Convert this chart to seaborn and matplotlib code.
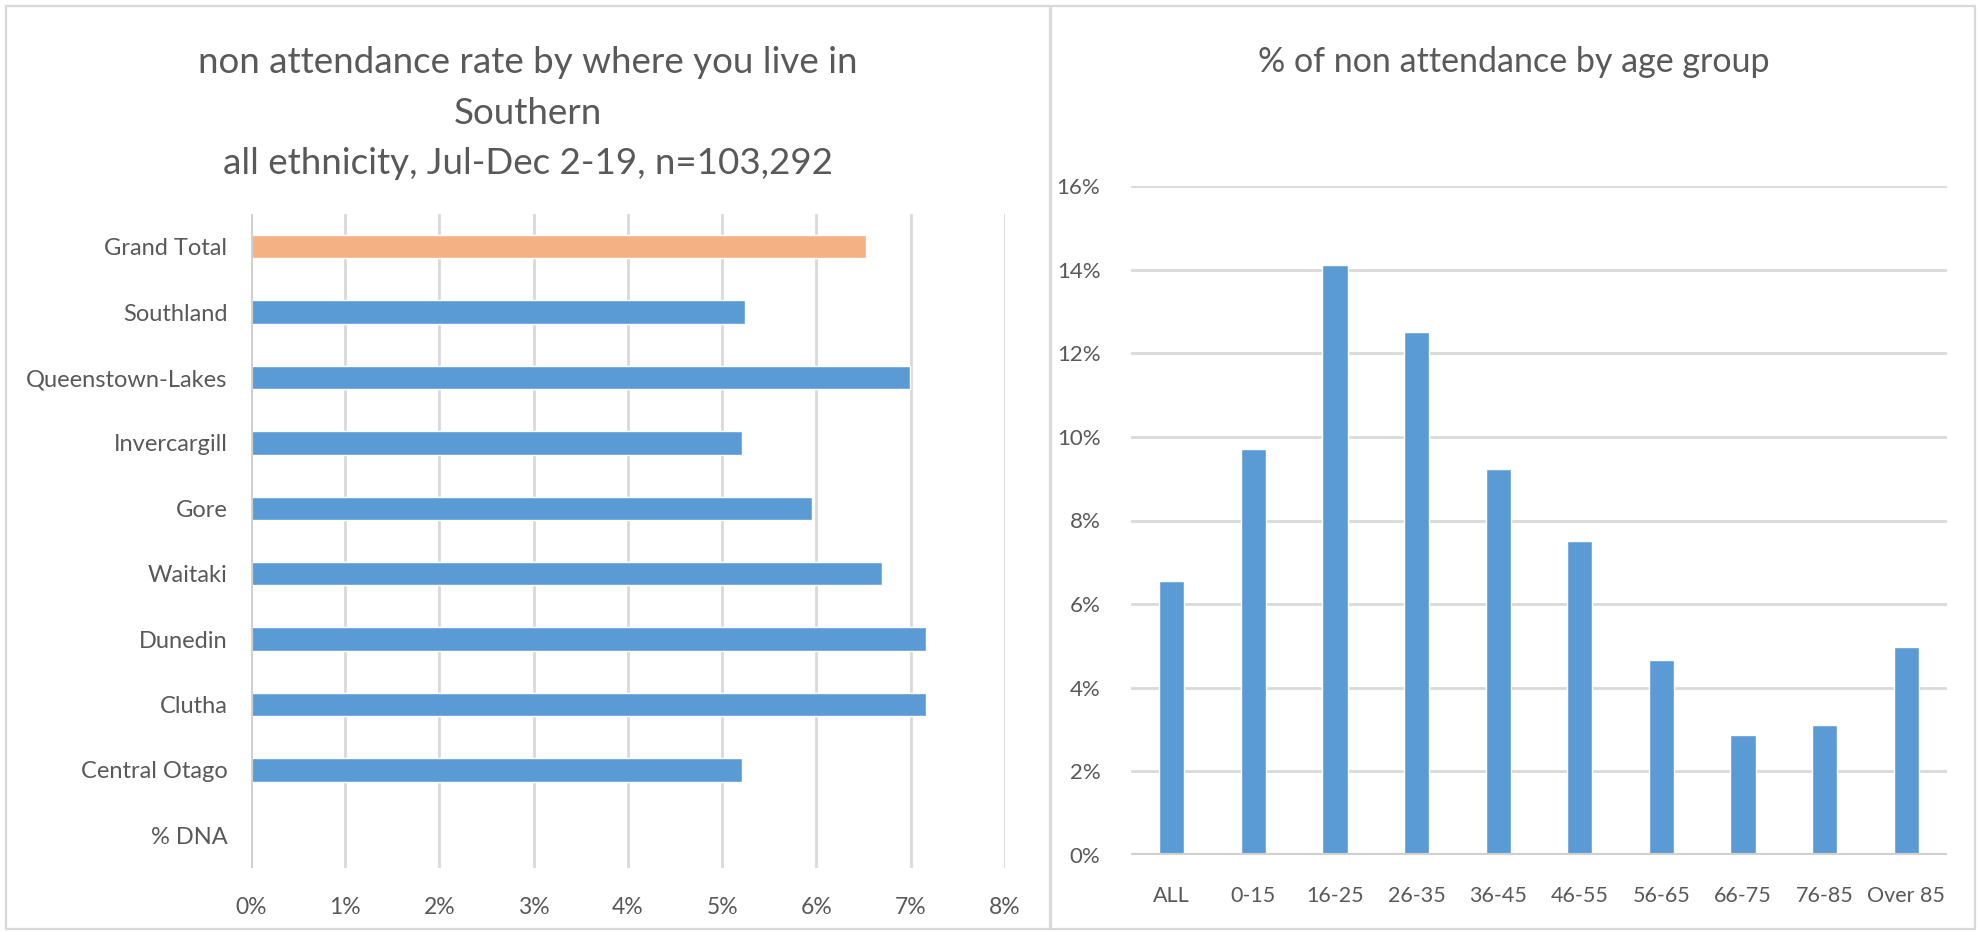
import matplotlib
matplotlib.use("Agg")
import matplotlib.pyplot as plt
from matplotlib.patches import Rectangle
from matplotlib.ticker import PercentFormatter
import numpy as np
import pandas as pd
import seaborn as sns

# Non-attendance rate by area of residence
areas = ["Grand Total", "Southland", "Queenstown-Lakes", "Invercargill", "Gore",
         "Waitaki", "Dunedin", "Clutha", "Central Otago", "% DNA"]
area_rates = [0.0652, 0.0524, 0.0699, 0.0521, 0.0595,
              0.0669, 0.0716, 0.0716, 0.0521, np.nan]

# Non-attendance by age group
age_groups = ["ALL", "0-15", "16-25", "26-35", "36-45",
              "46-55", "56-65", "66-75", "76-85", "Over 85"]
age_rates = [0.0656, 0.0971, 0.1411, 0.1251, 0.0924,
             0.0752, 0.0466, 0.0288, 0.0312, 0.0497]

area_ticks = [0, 0.01, 0.02, 0.03, 0.04, 0.05, 0.06, 0.07, 0.08]
age_ticks = [0, 0.02, 0.04, 0.06, 0.08, 0.10, 0.12, 0.14, 0.16]

left_title = ("non attendance rate by where you live in\nSouthern\n"
              "all ethnicity, Jul-Dec 2-19, n=103,292")
right_title = "% of non attendance by age group"

BLUE = "#5B9BD5"
ORANGE = "#F4B183"
GRID = "#D9D9D9"
TEXT = "#595959"

sns.set_theme(style="white")
plt.rcParams["font.family"] = ["Lato", "DejaVu Sans"]
plt.rcParams["text.color"] = TEXT

W, H = 1978, 931
fig = plt.figure(figsize=(W / 100, H / 100), dpi=100)
fig.patch.set_facecolor("white")

# panel frames
for x0, x1 in [(6, 1050), (1051, 1975)]:
    fig.add_artist(Rectangle((x0 / W, 1 - 929 / H), (x1 - x0) / W, (929 - 6) / H,
                             transform=fig.transFigure, fill=False,
                             edgecolor=GRID, linewidth=1.6))

# ---- left: horizontal bars by area ----
axl = fig.add_axes([251 / W, 1 - 868 / H, 754 / W, 654 / H])
df_area = pd.DataFrame({"area": areas, "rate": area_rates})
palette = {a: (ORANGE if a == "Grand Total" else BLUE) for a in areas}
sns.barplot(data=df_area, x="rate", y="area", hue="area", order=areas,
            palette=palette, dodge=False, legend=False, width=0.36,
            saturation=1, ax=axl)
axl.set_xlim(0, 0.08)
axl.set_ylim(len(areas) - 0.5, -0.5)
axl.set_xticks(area_ticks)
axl.xaxis.set_major_formatter(PercentFormatter(1.0, decimals=0))
axl.grid(axis="x", color=GRID, linewidth=2)
axl.set_axisbelow(True)
for s in axl.spines.values():
    s.set_visible(False)
axl.axvline(0, color="#D0D0D0", linewidth=3, zorder=1)
axl.set_xlabel("")
axl.set_ylabel("")
axl.tick_params(axis="x", labelsize=16.5, colors=TEXT, pad=21, length=0)
axl.tick_params(axis="y", labelsize=17, colors=TEXT, pad=17, length=0)
fig.text(528 / W, 1 - 113 / H, left_title, ha="center", va="center",
         fontsize=26.5, color=TEXT, linespacing=1.65)

# ---- right: vertical bars by age group ----
axr = fig.add_axes([1131 / W, 1 - 855 / H, 816 / W, 669 / H])
df_age = pd.DataFrame({"age": age_groups, "rate": age_rates})
sns.barplot(data=df_age, x="age", y="rate", order=age_groups, color=BLUE,
            width=0.31, saturation=1, ax=axr)
axr.set_ylim(0, 0.16)
axr.set_xlim(-0.5, len(age_groups) - 0.5)
axr.set_yticks(age_ticks)
axr.yaxis.set_major_formatter(PercentFormatter(1.0, decimals=0))
axr.grid(axis="y", color=GRID, linewidth=2)
axr.set_axisbelow(True)
for s in axr.spines.values():
    s.set_visible(False)
axr.axhline(0, color="#D0D0D0", linewidth=3, zorder=1)
axr.set_xlabel("")
axr.set_ylabel("")
axr.tick_params(axis="x", labelsize=15.5, colors=TEXT, pad=22, length=0)
axr.tick_params(axis="y", labelsize=16, colors=TEXT, pad=22, length=0)
fig.text(1514 / W, 1 - 62 / H, right_title, ha="center", va="center",
         fontsize=24.5, color=TEXT)

fig.savefig("out.png", dpi=100, facecolor="white")
